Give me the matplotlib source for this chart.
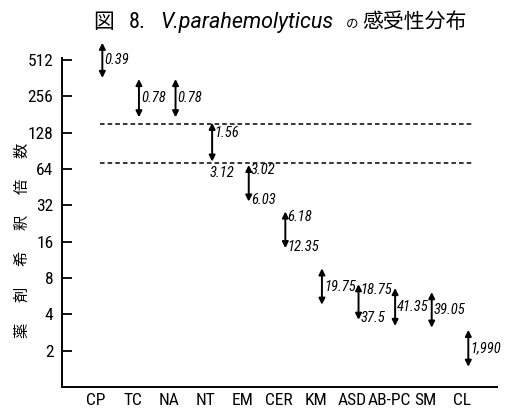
import matplotlib
matplotlib.use('Agg')
import matplotlib.pyplot as plt
import numpy as np
from matplotlib import font_manager

drugs = ['CP', 'TC', 'NA', 'NT', 'EM', 'CER', 'KM', 'ASD', 'AB-PC', 'SM', 'CL']
# dilution-fold range of each arrow (upper end, lower end)
upper = [709, 355, 355, 154, 69, 28.4, 9.6, 7.1, 6.6, 6.1, 2.97]
lower = [362, 171, 171, 73.5, 34.3, 14.1, 4.8, 3.6, 3.2, 3.1, 1.47]
top_labels = ['0.39', '0.78', '0.78', '1.56', '3.02', '6.18', '19.75', '18.75', '41.35', '39.05', '1,990']
bottom_labels = ['', '', '', '3.12', '6.03', '12.35', '', '37.5', '', '', '']
yticks = [2, 4, 8, 16, 32, 64, 128, 256, 512]
limit_lines = [150, 72]

names = {f.name for f in font_manager.fontManager.ttflist}
narrow = 'Liberation Sans'
for cand in ['Liberation Sans Narrow', 'Roboto Condensed', 'Open Sans Condensed', 'DejaVu Sans Condensed']:
    if cand in names:
        narrow = cand
        break
cjk = 'Noto Sans CJK JP'

fig = plt.figure(figsize=(5.2, 4.13), dpi=100)
ax = fig.add_axes([0.1187, 0.063, 0.8375, 0.7966])

ax.set_yscale('log', base=2)
ax.set_ylim(1, 530)
ax.set_xlim(-0.94, 10.96)

for s in ['top', 'right']:
    ax.spines[s].set_visible(False)
for s in ['left', 'bottom']:
    ax.spines[s].set_linewidth(1.4)

ax.set_yticks(yticks)
ax.set_yticklabels([str(v) for v in yticks], fontfamily=narrow, fontsize=12.5)
ax.yaxis.set_minor_locator(matplotlib.ticker.NullLocator())
ax.tick_params(axis='y', direction='in', length=7, width=1.3, pad=6)
ax.set_xticks(range(len(drugs)))
ax.set_xticklabels(drugs, fontfamily=narrow, fontsize=12.5)
ax.tick_params(axis='x', length=0, pad=4)

# dashed reference lines
for v in limit_lines:
    ax.plot([0.1, 10.33], [v, v], color='black', lw=1.1, ls=(0, (3, 2)))

lab_kw = dict(fontfamily=narrow, fontstyle='italic', fontsize=10.5,
              textcoords='offset points', annotation_clip=False)
for i, d in enumerate(drugs):
    x = i + 0.17
    ax.annotate('', xy=(x, upper[i]), xytext=(x, lower[i]),
                arrowprops=dict(arrowstyle='<|-|>', color='black', lw=1.4,
                                mutation_scale=9, shrinkA=0, shrinkB=0),
                annotation_clip=False)
    if d == 'NT':
        ax.annotate(top_labels[i], xy=(x, upper[i]), xytext=(1.5, -7),
                    ha='left', va='center', **lab_kw)
        ax.annotate(bottom_labels[i], xy=(x, lower[i]), xytext=(-2, -8),
                    ha='left', va='center', **lab_kw)
    elif bottom_labels[i]:
        ax.annotate(top_labels[i], xy=(x, upper[i]), xytext=(1.5, -4),
                    ha='left', va='center', **lab_kw)
        ax.annotate(bottom_labels[i], xy=(x, lower[i]), xytext=(1.5, 1),
                    ha='left', va='center', **lab_kw)
    else:
        ax.annotate(top_labels[i], xy=(x, np.sqrt(upper[i] * lower[i])), xytext=(1.5, 0),
                    ha='left', va='center', **lab_kw)

# y label, characters stacked along the axis
ylabel = '薬剤希釈倍数'
for c, yy in zip(ylabel, np.linspace(0.201, 0.637, len(ylabel))):
    fig.text(0.042, yy, c, rotation=90, ha='center', va='center',
             fontfamily=cjk, fontsize=11)

# title built from pieces
fig.text(93 / 520, 0.932, '図', fontfamily=cjk, fontsize=15, va='baseline')
fig.text(129 / 520, 0.932, '8.', fontfamily=narrow, fontsize=16, va='baseline')
fig.text(160 / 520, 0.932, 'V.parahemolyticus', fontfamily='Roboto',
         fontstyle='italic', fontsize=15.5, va='baseline')
fig.text(346 / 520, 0.932, 'の', fontfamily=cjk, fontsize=9, va='baseline')
fig.text(362 / 520, 0.932, '感受性分布', fontfamily=cjk, fontsize=15, va='baseline')

fig.savefig('out.png', dpi=100)
